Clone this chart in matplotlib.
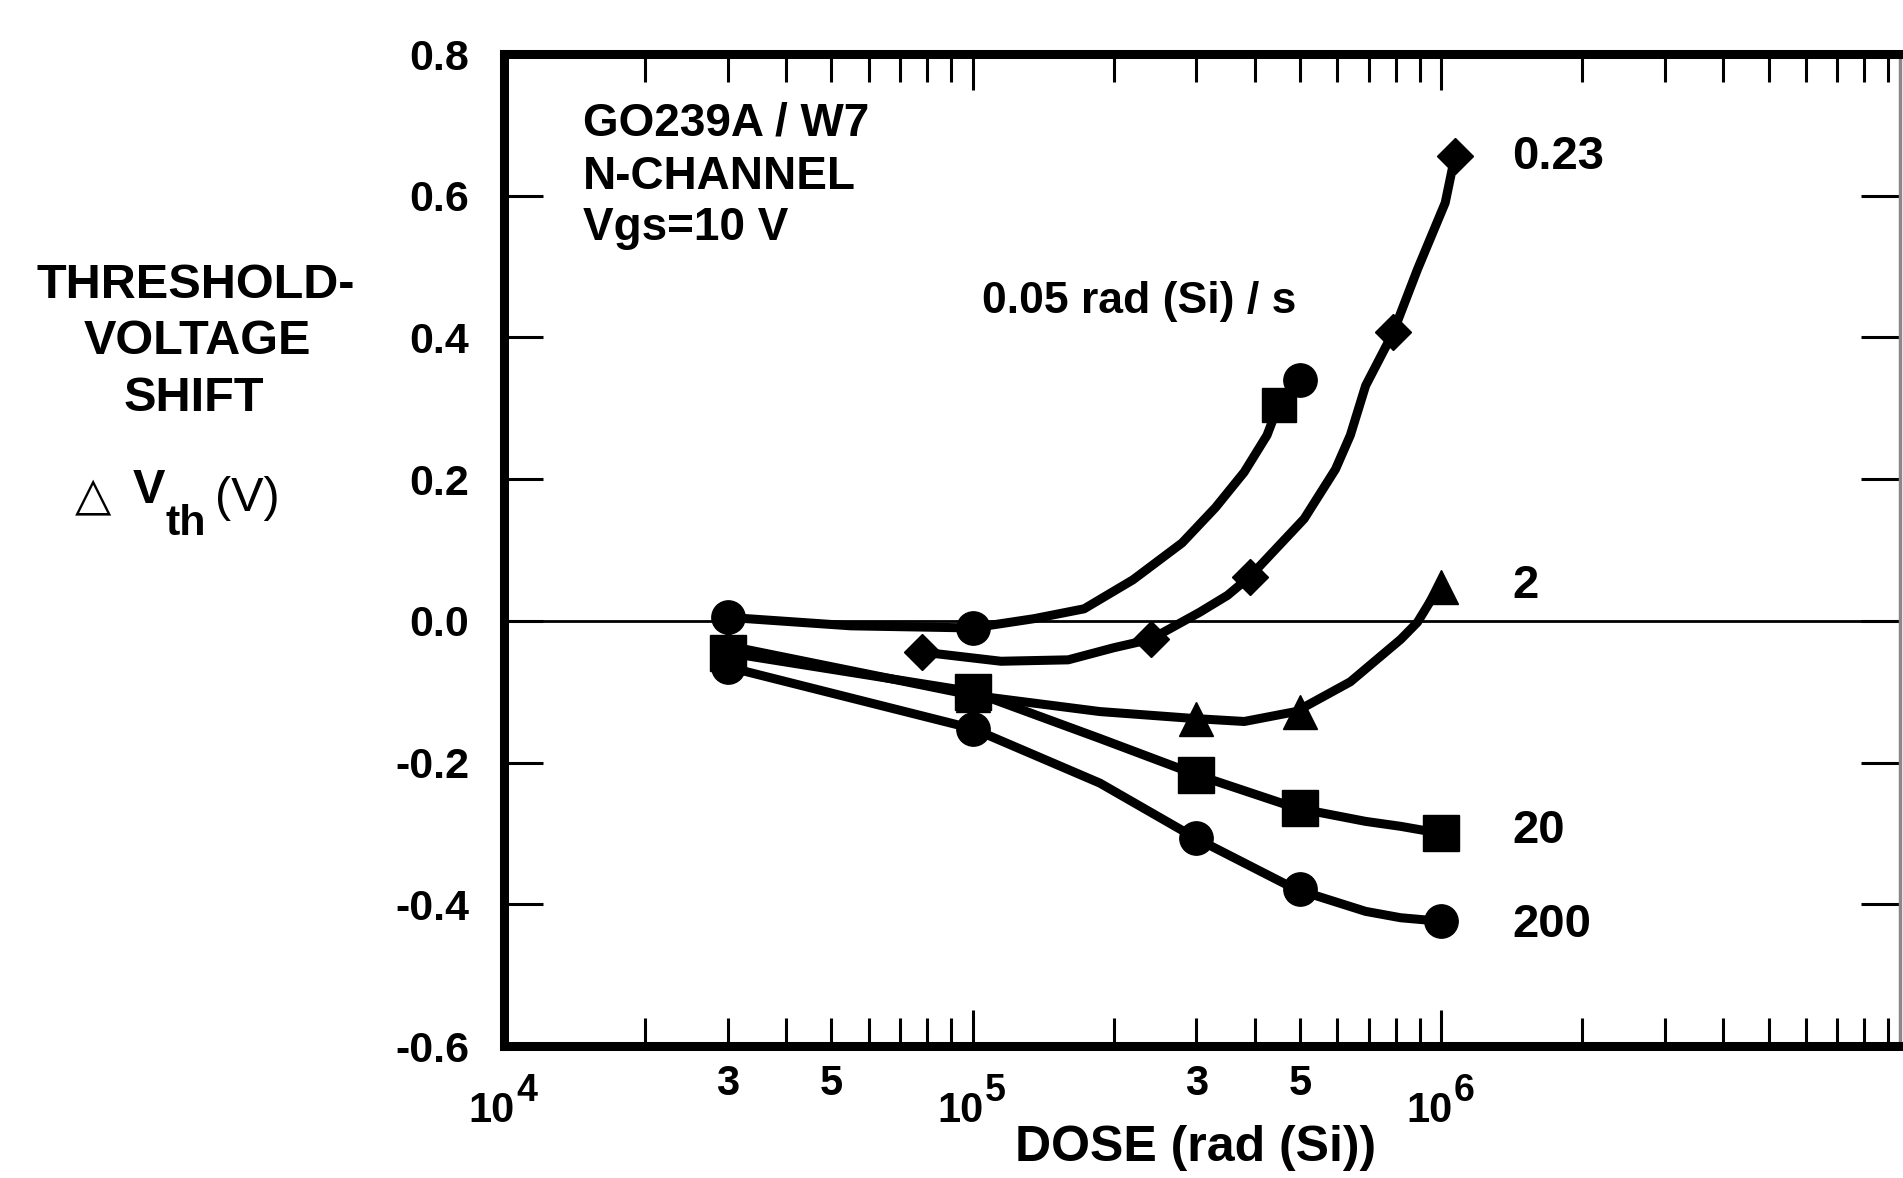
import numpy as np
import matplotlib
matplotlib.use('Agg')
import matplotlib.pyplot as plt
import matplotlib.ticker as mtick
import matplotlib.transforms as mtrans

plt.rcParams['font.family'] = ['Liberation Sans', 'DejaVu Sans']
plt.rcParams['font.weight'] = 'bold'
plt.rcParams['axes.unicode_minus'] = False

# dose rate labels (rad(Si)/s)
rate_labels = ['0.05 rad (Si) / s', '0.23', '2', '20', '200']

# 0.05 rad/s : measured points and traced curve
mark_x_005 = [3e4, 1e5, 4.5e5, 5e5]
mark_y_005 = [0.005, -0.01, 0.305, 0.34]
mark_s_005 = ['o', 'o', 's', 'o']
curve_x_005 = [3e4, 5.5e4, 1e5, 1.35e5, 1.73e5, 2.2e5, 2.8e5, 3.3e5, 3.8e5, 4.25e5, 4.5e5, 5e5]
curve_y_005 = [0.005, -0.007, -0.01, 0.003, 0.017, 0.058, 0.11, 0.16, 0.21, 0.262, 0.305, 0.34]

# 0.23 rad/s
mark_x_023 = [7.8e4, 2.4e5, 3.9e5, 7.9e5, 1.07e6]
mark_y_023 = [-0.044, -0.026, 0.062, 0.407, 0.656]
curve_x_023 = [7.8e4, 1.15e5, 1.6e5, 2.0e5, 2.4e5, 3.05e5, 3.5e5, 3.9e5, 5.1e5,
               5.95e5, 6.4e5, 6.9e5, 7.9e5, 8.9e5, 1.02e6, 1.07e6]
curve_y_023 = [-0.044, -0.057, -0.055, -0.038, -0.026, 0.012, 0.036, 0.062, 0.144,
               0.214, 0.262, 0.332, 0.407, 0.496, 0.59, 0.656]

# 2 rad/s
mark_x_2 = [3e4, 1e5, 3e5, 5e5, 1e6]
mark_y_2 = [-0.035, -0.105, -0.138, -0.128, 0.048]
curve_x_2 = [3e4, 1e5, 1.87e5, 3e5, 3.8e5, 4.9e5, 6.4e5, 8.2e5, 8.9e5, 9.9e5]
curve_y_2 = [-0.035, -0.105, -0.128, -0.138, -0.142, -0.128, -0.086, -0.026, -0.002, 0.048]

# 20 rad/s
mark_x_20 = [3e4, 1e5, 3e5, 5e5, 1e6]
mark_y_20 = [-0.045, -0.10, -0.217, -0.264, -0.30]
curve_x_20 = [3e4, 1e5, 1.87e5, 3e5, 4.9e5, 6.9e5, 8.2e5, 1e6]
curve_y_20 = [-0.045, -0.10, -0.166, -0.217, -0.264, -0.283, -0.29, -0.30]

# 200 rad/s
mark_x_200 = [3e4, 1e5, 3e5, 5e5, 1e6]
mark_y_200 = [-0.065, -0.152, -0.307, -0.379, -0.424]
curve_x_200 = [3e4, 1e5, 1.87e5, 3e5, 4.9e5, 6.9e5, 8.2e5, 1e6]
curve_y_200 = [-0.065, -0.152, -0.229, -0.307, -0.379, -0.41, -0.419, -0.424]

y_ticks = [-0.6, -0.4, -0.2, 0.0, 0.2, 0.4, 0.6, 0.8]
decade_x = [1e4, 1e5, 1e6]
minor_x_labels = {3e4: '3', 5e4: '5', 3e5: '3', 5e5: '5'}

LW = 6.5

fig = plt.figure(figsize=(19.03, 11.78), dpi=100)
ax = fig.add_axes([0.2648, 0.11205, 0.7336, 0.8421])

ax.axhline(0, color='k', lw=2, zorder=1)

ax.plot(curve_x_005, curve_y_005, color='k', lw=LW, zorder=3)
for x, y, m in zip(mark_x_005, mark_y_005, mark_s_005):
    ax.plot([x], [y], ls='none', marker=m, ms=24 if m == 'o' else 25, color='k', zorder=4)

ax.plot(curve_x_023, curve_y_023, color='k', lw=LW, zorder=3)
ax.plot(mark_x_023, mark_y_023, ls='none', marker='D', ms=18, color='k', zorder=4)

ax.plot(curve_x_2, curve_y_2, color='k', lw=LW, zorder=3)
ax.plot(mark_x_2, mark_y_2, ls='none', marker='^', ms=25, color='k', zorder=4)

ax.plot(curve_x_20, curve_y_20, color='k', lw=LW, zorder=3)
ax.plot(mark_x_20, mark_y_20, ls='none', marker='s', ms=26, color='k', zorder=4)

ax.plot(curve_x_200, curve_y_200, color='k', lw=LW, zorder=3)
ax.plot(mark_x_200, mark_y_200, ls='none', marker='o', ms=24, color='k', zorder=4)

ax.set_xscale('log')
ax.set_xlim(1e4, 10 ** 6.979)
ax.set_ylim(-0.6, 0.8)

ax.xaxis.set_major_locator(mtick.LogLocator(base=10, numticks=10))
ax.xaxis.set_minor_locator(mtick.LogLocator(base=10, subs=np.arange(2, 10), numticks=30))
ax.xaxis.set_major_formatter(mtick.NullFormatter())


def minor_fmt(v, p):
    for k, lab in minor_x_labels.items():
        if abs(v - k) / k < 1e-6:
            return lab
    return ''


ax.xaxis.set_minor_formatter(mtick.FuncFormatter(minor_fmt))
ax.set_yticks(y_ticks)
ax.yaxis.set_major_formatter(mtick.FuncFormatter(lambda v, p: f'{v:.1f}'))

ax.tick_params(axis='both', which='both', direction='in', top=True, right=True,
               width=2.2, color='k')
ax.tick_params(axis='y', which='major', length=28, labelsize=31, pad=25)
ax.tick_params(axis='x', which='major', length=26)
ax.tick_params(axis='x', which='minor', length=20, labelsize=30, pad=13)

# decade labels: "10" with a raised exponent
xtr = ax.get_xaxis_transform()
base_tr = mtrans.offset_copy(xtr, fig=fig, x=8, y=0, units='points')
exp_tr = mtrans.offset_copy(xtr, fig=fig, x=9, y=0, units='points')
for d in decade_x:
    ax.text(d, -0.066, '10', transform=base_tr, fontsize=30, ha='right', va='center')
    ax.text(d, -0.045, '%d' % round(np.log10(d)), transform=exp_tr, fontsize=27,
            ha='left', va='center')

for side in ['top', 'left', 'bottom']:
    ax.spines[side].set_linewidth(6.5)
ax.spines['right'].set_linewidth(2.5)
ax.spines['right'].set_color('#888888')

# curve labels
ax.text(1.045e5, 0.451, rate_labels[0], fontsize=32, ha='left', va='center')
ax.text(1.42e6, 0.655, rate_labels[1], fontsize=34, ha='left', va='center')
ax.text(1.42e6, 0.049, rate_labels[2], fontsize=34, ha='left', va='center')
ax.text(1.42e6, -0.297, rate_labels[3], fontsize=34, ha='left', va='center')
ax.text(1.42e6, -0.429, rate_labels[4], fontsize=34, ha='left', va='center')

ax.text(0.0566, 0.930, 'GO239A / W7', transform=ax.transAxes, fontsize=33, va='center')
ax.text(0.0566, 0.876, 'N-CHANNEL', transform=ax.transAxes, fontsize=33, va='center')
ax.text(0.0566, 0.825, 'Vgs=10 V', transform=ax.transAxes, fontsize=33, va='center')

# y axis title block
fig.text(0.103, 0.758, 'THRESHOLD-', fontsize=35, ha='center', va='center')
fig.text(0.104, 0.710, 'VOLTAGE', fontsize=35, ha='center', va='center')
fig.text(0.102, 0.662, 'SHIFT', fontsize=35, ha='center', va='center')
fig.text(0.049, 0.578, '\u25b3', fontsize=34, fontweight='normal', ha='center', va='center',
         family=['DejaVu Sans'])
fig.text(0.078, 0.584, 'V', fontsize=35, ha='center', va='center')
fig.text(0.087, 0.555, 'th', fontsize=31, ha='left', va='center')
fig.text(0.130, 0.577, '(V)', fontsize=35, fontweight='normal', ha='center', va='center')

fig.text(0.628, 0.006, 'DOSE (rad (Si))', fontsize=36, ha='center', va='bottom')

fig.savefig('out.png', dpi=100, facecolor='white')
